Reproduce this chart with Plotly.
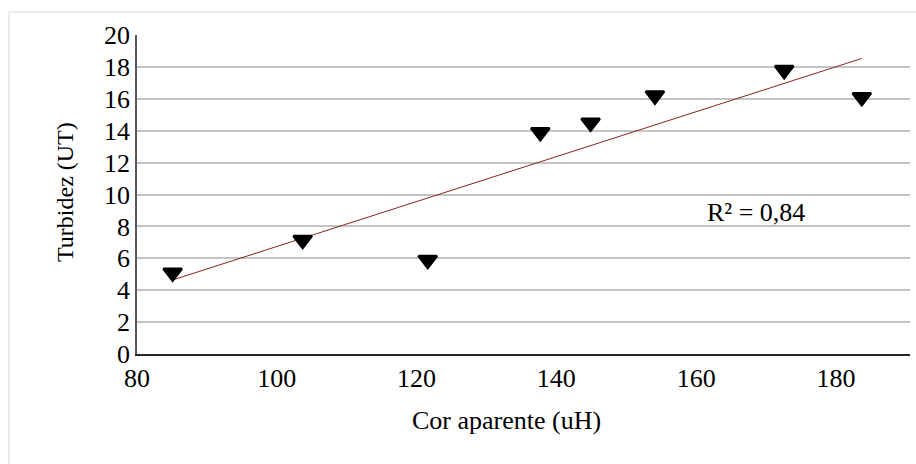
import numpy as np
import plotly.graph_objects as go

cor_aparente = [85.1, 103.7, 121.6, 137.7, 144.9, 154.1, 172.6, 183.7]
turbidez = [5.1, 7.15, 5.9, 13.9, 14.5, 16.2, 17.8, 16.1]
x_ticks = [80, 100, 120, 140, 160, 180]
y_ticks = [0, 2, 4, 6, 8, 10, 12, 14, 16, 18, 20]
r2_label = "R² = 0,84"
x_title = "Cor aparente (uH)"
y_title = "Turbidez (UT)"

slope, intercept = np.polyfit(cor_aparente, turbidez, 1)
trend_x = [min(cor_aparente), max(cor_aparente)]
trend_y = [slope * v + intercept for v in trend_x]

FONT = "Liberation Serif, Times New Roman, serif"

fig = go.Figure()
fig.add_trace(go.Scatter(x=trend_x, y=trend_y, mode="lines",
                         line=dict(color="#8B2323", width=1), hoverinfo="skip"))
fig.add_trace(go.Scatter(x=cor_aparente, y=turbidez, mode="markers",
                         marker=dict(symbol="triangle-down", size=16, color="black",
                                     line=dict(color="black", width=2.5))))

fig.add_annotation(x=168.6, y=8.85, xref="x", yref="y", text=r2_label, showarrow=False,
                   font=dict(family=FONT, size=26, color="black"))
fig.add_annotation(x=0.4774, y=-0.207, xref="paper", yref="paper", text=x_title,
                   showarrow=False, xanchor="center", yanchor="middle",
                   font=dict(family=FONT, size=26, color="black"))
fig.add_annotation(x=-0.0931, y=0.508, xref="paper", yref="paper", text=y_title,
                   showarrow=False, xanchor="center", yanchor="middle", textangle=-90,
                   font=dict(family=FONT, size=24, color="black"))

# light chart-area border
fig.add_shape(type="rect", xref="paper", yref="paper", x0=-0.1656, x1=1.03, y0=-0.4, y1=1.072,
              line=dict(color="#d9d9d9", width=1), fillcolor="rgba(0,0,0,0)", layer="below")

fig.update_layout(
    width=916, height=464,
    margin=dict(l=137, r=6, t=35, b=110),
    paper_bgcolor="white", plot_bgcolor="white",
    showlegend=False,
    font=dict(family=FONT, size=26, color="black"),
    xaxis=dict(range=[80, 190.6], tickvals=x_ticks, showgrid=False, zeroline=False,
               showline=True, linecolor="#262626", linewidth=2, ticks="",
               tickfont=dict(family=FONT, size=26, color="black")),
    yaxis=dict(range=[0, 20], tickvals=y_ticks, showgrid=True, gridcolor="#c4c4c4", gridwidth=1.5,
               zeroline=False, showline=True, linecolor="#595959", linewidth=1.5, ticks="",
               tickfont=dict(family=FONT, size=26, color="black")),
)

fig.write_html("out.html")
